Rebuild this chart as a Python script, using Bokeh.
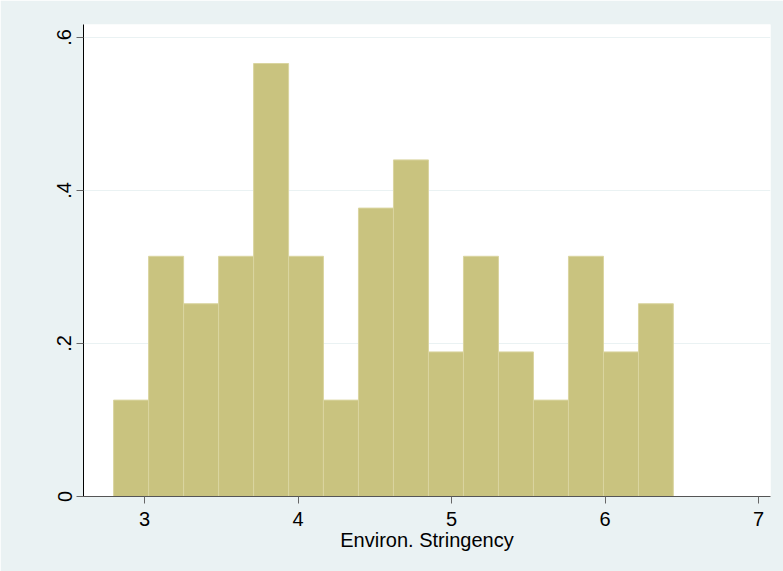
from bokeh.plotting import figure
from bokeh.models import Range1d, FixedTicker
from bokeh.embed import file_html
from bokeh.resources import INLINE

# Histogram data (density)
bin_edges = [2.798, 3.026, 3.254, 3.482, 3.710, 3.938, 4.165, 4.393, 4.621,
             4.849, 5.077, 5.305, 5.533, 5.761, 5.989, 6.217, 6.444]
density = [0.126, 0.314, 0.252, 0.314, 0.566, 0.314, 0.126, 0.377, 0.440,
           0.189, 0.314, 0.189, 0.126, 0.314, 0.189, 0.252]
x_ticks = [3, 4, 5, 6, 7]
y_ticks = [0, 0.2, 0.4, 0.6]
y_tick_labels = {0: "0", 0.2: ".2", 0.4: ".4", 0.6: ".6"}
x_title = "Environ. Stringency"

FONT = "Liberation Sans"
BG = "#EAF2F3"

p = figure(width=783, height=571, output_backend="svg", toolbar_location=None,
           x_range=Range1d(2.602, 7.077), y_range=Range1d(0, 0.617),
           min_border_left=83, min_border_right=13, min_border_top=24,
           min_border_bottom=75)
p.background_fill_color = "white"
p.border_fill_color = BG
p.outline_line_color = None

p.quad(left=bin_edges[:-1], right=bin_edges[1:], top=density, bottom=0,
       fill_color="#C9C37F", line_color="#DAD5A0", line_width=1)

p.xgrid.grid_line_color = None
p.ygrid.ticker = FixedTicker(ticks=y_ticks[1:])
p.ygrid.grid_line_color = BG
p.ygrid.grid_line_width = 1

p.xaxis.ticker = FixedTicker(ticks=x_ticks)
p.yaxis.ticker = FixedTicker(ticks=y_ticks)
p.yaxis.major_label_overrides = y_tick_labels
p.yaxis.major_label_orientation = "vertical"

for ax in (p.xaxis, p.yaxis):
    ax.minor_tick_line_color = None
    ax.major_tick_in = 0
    ax.major_tick_out = 7
    ax.major_tick_line_color = "#666666"
    ax.major_label_text_font = FONT
    ax.major_label_text_font_size = "20px"
    ax.major_label_text_color = "black"

p.xaxis.axis_line_color = "#555555"
p.yaxis.axis_line_color = "black"
p.xaxis.major_label_standoff = 8
p.yaxis.major_label_standoff = 5

p.xaxis.axis_label = x_title
p.xaxis.axis_label_text_font = FONT
p.xaxis.axis_label_text_font_size = "20px"
p.xaxis.axis_label_text_font_style = "normal"
p.xaxis.axis_label_text_color = "black"
p.xaxis.axis_label_standoff = 0

open("out.html", "w").write(file_html(p, INLINE))
